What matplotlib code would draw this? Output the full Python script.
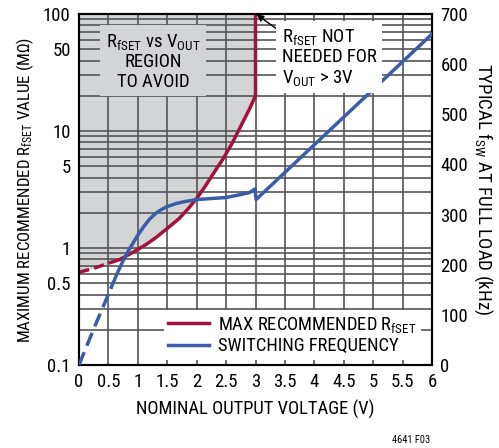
import numpy as np
import matplotlib
matplotlib.use('Agg')
import matplotlib.pyplot as plt
from matplotlib import font_manager

# pick a condensed sans if there is one
fam = 'Liberation Sans'
narrow = False
for cand in ['Liberation Sans Narrow', 'Arial Narrow', 'Roboto Condensed']:
    try:
        font_manager.findfont(cand, fallback_to_default=False)
        fam = cand
        narrow = True
        break
    except Exception:
        pass

plt.rcParams['font.family'] = [fam, 'DejaVu Sans']
plt.rcParams['mathtext.fontset'] = 'custom'
plt.rcParams['mathtext.rm'] = fam
plt.rcParams['mathtext.it'] = fam
plt.rcParams['mathtext.default'] = 'rm'

k = 1.0 if narrow else 0.88

# max recommended RfSET (MOhm) vs Vout
r_x = [0, 0.25, 0.5, 0.7, 0.85, 1.0, 1.15, 1.3, 1.5, 1.7, 1.85, 2.0, 2.15, 2.3,
       2.45, 2.6, 2.75, 2.9, 3.0, 3.0]
r_y = [0.62, 0.67, 0.74, 0.8, 0.88, 0.97, 1.08, 1.22, 1.47, 1.78, 2.15, 2.65, 3.4,
       4.45, 5.8, 7.8, 11.0, 15.5, 20.0, 100.0]

# typical switching frequency (kHz) vs Vout
f_x = [0, 0.25, 0.55, 0.65, 0.75, 0.85, 1.0, 1.1, 1.2, 1.3, 1.4, 1.5, 1.65, 1.8,
       2.0, 2.25, 2.5, 2.75, 2.9, 2.99, 3.01, 6.0]
f_y = [0, 72, 155, 183, 208, 230, 259, 276, 291, 302, 310, 316, 322, 326,
       330, 332, 334, 340, 344, 351, 330, 660]

x_ticks = [0, 0.5, 1, 1.5, 2, 2.5, 3, 3.5, 4, 4.5, 5, 5.5, 6]
x_labels = ['0', '0.5', '1', '1.5', '2', '2.5', '3', '3.5', '4', '4.5', '5', '5.5', '6']
y_ticks = [0.1, 0.5, 1, 5, 10, 50, 100]
y_labels = ['0.1', '0.5', '1', '5', '10', '50', '100']
f_ticks = [0, 100, 200, 300, 400, 500, 600, 700]

red = '#a3123a'
blue = '#3d5ca8'
gridc = '#555555'

fig = plt.figure(figsize=(4.99, 4.48), dpi=100)
ax = fig.add_axes([79 / 499, 83 / 448, 353 / 499, 351 / 448])
ax.set_yscale('log')
ax.set_xlim(0, 6)
ax.set_ylim(0.1, 100)

# region to avoid
ax.fill_between(r_x, r_y, 100, color='#d3d4d6', lw=0, zorder=0)

# grid
for xv in x_ticks[1:-1]:
    ax.axvline(xv, color=gridc, lw=1.2, zorder=1)
for dec in [0.1, 1, 10]:
    for m in range(1, 10):
        v = dec * m
        if 0.1 < v < 100:
            ax.axhline(v, color=gridc, lw=1.2, zorder=1)

ax.set_xticks(x_ticks)
ax.set_xticklabels(x_labels)
ax.set_yticks(y_ticks)
ax.set_yticklabels(y_labels)
ax.minorticks_off()
ax.tick_params(length=0, labelsize=13.5 * k, pad=6)
for s in ax.spines.values():
    s.set_linewidth(1.5)

r_x = np.array(r_x)
r_y = np.array(r_y)
f_x = np.array(f_x)
f_y = np.array(f_y)

# red curve: dashed up to 0.7 then solid
ax.plot(r_x[:4], r_y[:4], color=red, lw=2.5, ls=(0, (3, 1.5)), zorder=4)
ax.plot(r_x[3:], r_y[3:], color=red, lw=2.5, zorder=4)

ax.set_xlabel('NOMINAL OUTPUT VOLTAGE (V)', fontsize=13.3 * k, labelpad=6)
ax.set_ylabel('MAXIMUM RECOMMENDED R$_{fSET}$ VALUE (M\u03a9)', fontsize=12.2 * k, labelpad=5)

ax2 = ax.twinx()
ax2.set_ylim(0, 700)
ax2.set_yticks(f_ticks)
ax2.tick_params(length=0, labelsize=13.5 * k, pad=6)
for s in ax2.spines.values():
    s.set_linewidth(1.5)
ax2.set_ylabel('TYPICAL f$_{SW}$ AT FULL LOAD (kHz)', fontsize=13.6 * k, rotation=-90, labelpad=19)

ax2.plot(f_x[:3], f_y[:3], color=blue, lw=2.5, ls=(0, (4, 2)), zorder=4)
ax2.plot(f_x[2:], f_y[2:], color=blue, lw=2.5, zorder=4)

# legend (proxy lines drawn in the right axes)
l1, = ax2.plot([], [], color=red, lw=2.5, label='MAX RECOMMENDED R$_{fSET}$')
l2, = ax2.plot([], [], color=blue, lw=2.5, label='SWITCHING FREQUENCY')
leg = ax2.legend(handles=[l1, l2], loc='lower right', fontsize=13.3 * k, frameon=True,
                 fancybox=False, edgecolor='none', framealpha=1,
                 handlelength=2.2, handletextpad=0.5, labelspacing=0.15,
                 borderpad=0.25, bbox_to_anchor=(0.995, -0.012))

ax2.text(1.26, 606, 'R$_{fSET}$ vs V$_{OUT}$\nREGION\nTO AVOID', ha='center', va='center',
         fontsize=13.5 * k, linespacing=1.1,
         bbox=dict(facecolor='#d3d4d6', edgecolor='none', pad=4), zorder=5)
ax2.annotate('R$_{fSET}$ NOT\nNEEDED FOR\nV$_{OUT}$ > 3V', xy=(3.02, 699), xytext=(3.45, 614),
             ha='left', va='center', fontsize=13.5 * k, linespacing=1.1,
             bbox=dict(facecolor='white', edgecolor='none', pad=4),
             arrowprops=dict(arrowstyle='-|>', color='black', lw=1,
                             shrinkA=0, shrinkB=0, mutation_scale=10,
                             relpos=(0, 0.9)), zorder=5)

fig.text(430 / 499, 1 - 440 / 448, '4641 F03', fontsize=7.5, ha='right', va='center')

fig.savefig('out.png', dpi=100)
